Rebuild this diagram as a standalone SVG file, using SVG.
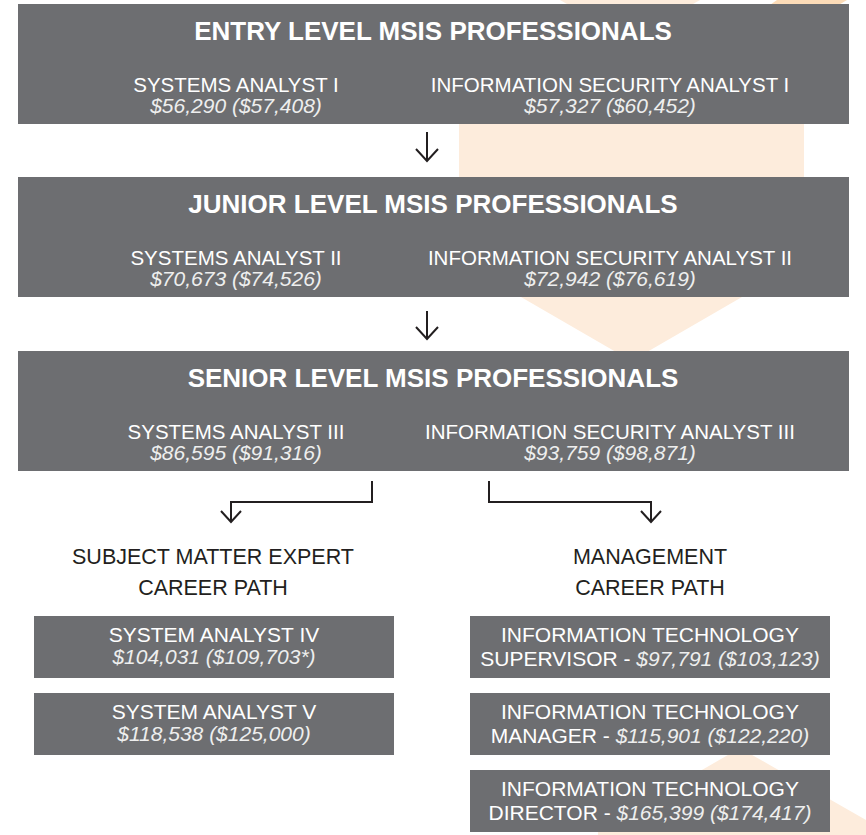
<svg xmlns="http://www.w3.org/2000/svg" width="866" height="835" viewBox="0 0 866 835">
<style>
.box{fill:#6d6e71}
.t{font-family:"Liberation Sans",Arial,Helvetica,sans-serif;fill:#ffffff;text-anchor:middle}
.h{font-size:26px;font-weight:bold}
.r{font-size:20.5px}
.s{font-size:21px;font-style:italic;fill:#eeeeee}
.i{font-style:italic;fill:#eeeeee}
.b{font-size:21px}
.lab{font-family:"Liberation Sans",Arial,Helvetica,sans-serif;font-size:21.5px;fill:#231f20;text-anchor:middle}
.c{fill:none;stroke:#231f20;stroke-width:2}
.bg{fill:#fdecdc}
.bg2{fill:#fcdcb8}
</style>
<g id="background">
<polygon class="bg" points="560,0 700,0 630,40"/>
<polygon class="bg2" points="777,0 847,0 780,40 720,40"/>
<polygon class="bg" points="459,124 804,124 804,261 631.5,361 459,261"/>
<polygon class="bg" points="740,748 866,820 866,835 598,835 598,830"/>
</g>
<g id="entry">
<rect class="box" x="18" y="4" width="831" height="120"/>
<text class="t h" x="433" y="40">ENTRY LEVEL MSIS PROFESSIONALS</text>
<text class="t r" x="236" y="92">SYSTEMS ANALYST I</text>
<text class="t s" x="236" y="113">$56,290 ($57,408)</text>
<text class="t r" x="610" y="92">INFORMATION SECURITY ANALYST I</text>
<text class="t s" x="610" y="113">$57,327 ($60,452)</text>
</g>
<g id="junior">
<rect class="box" x="18" y="177" width="831" height="120"/>
<text class="t h" x="433" y="213">JUNIOR LEVEL MSIS PROFESSIONALS</text>
<text class="t r" x="236" y="265">SYSTEMS ANALYST II</text>
<text class="t s" x="236" y="286">$70,673 ($74,526)</text>
<text class="t r" x="610" y="265">INFORMATION SECURITY ANALYST II</text>
<text class="t s" x="610" y="286">$72,942 ($76,619)</text>
</g>
<g id="senior">
<rect class="box" x="18" y="351" width="831" height="120"/>
<text class="t h" x="433" y="387">SENIOR LEVEL MSIS PROFESSIONALS</text>
<text class="t r" x="236" y="439">SYSTEMS ANALYST III</text>
<text class="t s" x="236" y="460">$86,595 ($91,316)</text>
<text class="t r" x="610" y="439">INFORMATION SECURITY ANALYST III</text>
<text class="t s" x="610" y="460">$93,759 ($98,871)</text>
</g>
<g id="sme-path">
<text class="lab" x="213" y="564">SUBJECT MATTER EXPERT</text>
<text class="lab" x="213" y="595">CAREER PATH</text>
</g>
<g id="mgmt-path">
<text class="lab" x="650" y="564">MANAGEMENT</text>
<text class="lab" x="650" y="595">CAREER PATH</text>
</g>
<g id="sa4">
<rect class="box" x="34" y="616" width="360" height="62"/>
<text class="t b" x="214" y="642">SYSTEM ANALYST IV</text>
<text class="t s" x="214" y="664">$104,031 ($109,703*)</text>
</g>
<g id="sa5">
<rect class="box" x="34" y="693" width="360" height="62"/>
<text class="t b" x="214" y="719">SYSTEM ANALYST V</text>
<text class="t s" x="214" y="741">$118,538 ($125,000)</text>
</g>
<g id="it-supervisor">
<rect class="box" x="470" y="616" width="360" height="62"/>
<text class="t b" x="650" y="642">INFORMATION TECHNOLOGY</text>
<text class="t b" x="650" y="666">SUPERVISOR - <tspan class="i">$97,791 ($103,123)</tspan></text>
</g>
<g id="it-manager">
<rect class="box" x="470" y="693" width="360" height="62"/>
<text class="t b" x="650" y="719">INFORMATION TECHNOLOGY</text>
<text class="t b" x="650" y="743">MANAGER - <tspan class="i">$115,901 ($122,220)</tspan></text>
</g>
<g id="it-director">
<rect class="box" x="470" y="770" width="360" height="62"/>
<text class="t b" x="650" y="796">INFORMATION TECHNOLOGY</text>
<text class="t b" x="650" y="820">DIRECTOR - <tspan class="i">$165,399 ($174,417)</tspan></text>
</g>
<g id="connectors">
<path class="c" d="M427,132 V161 M416,149 L427,161 L438,149"/>
<path class="c" d="M427,311 V339 M416,327 L427,339 L438,327"/>
<path class="c" d="M372,481 V502 H231 V522 M221,511 L231,522 L241,511"/>
<path class="c" d="M489,481 V502 H651 V522 M641,511 L651,522 L661,511"/>
</g>
</svg>
